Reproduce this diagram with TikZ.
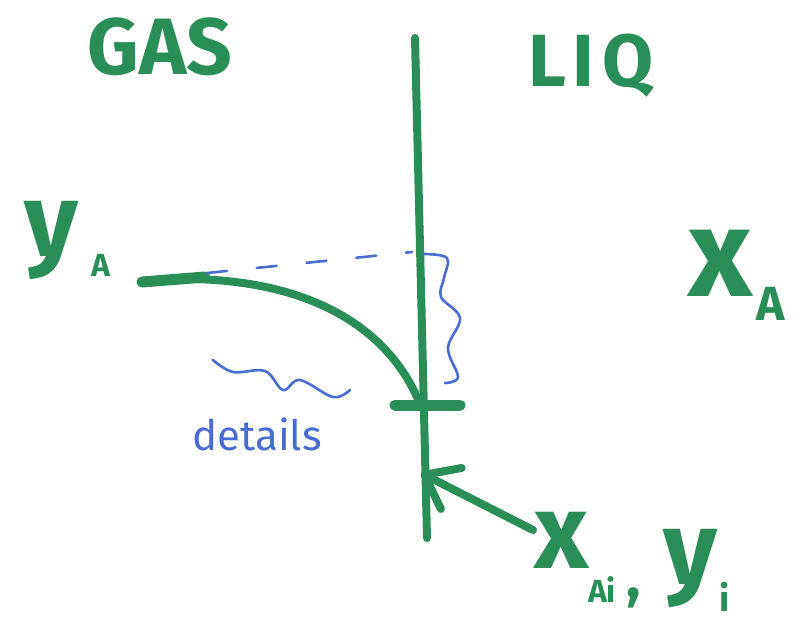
\documentclass[tikz,border=0pt]{standalone}
\usepackage{fontspec}
\setmainfont{Fira Sans}
\usetikzlibrary{arrows.meta}
\definecolor{mgreen}{RGB}{42,142,88}
\definecolor{mblue}{RGB}{72,108,208}
\tikzset{
  marker/.style={draw=mgreen, line width=8pt, line cap=round, line join=round},
  pen/.style={draw=mblue, line width=2.6pt, line cap=round, line join=round},
  gtext/.style={text=mgreen, inner sep=0pt, font=\bfseries},
  btext/.style={text=mblue, inner sep=0pt},
}
\begin{document}
\begin{tikzpicture}[x=1pt,y=-1pt]
\useasboundingbox (0,0) rectangle (797,635);
% labels
\node[gtext, font=\bfseries\fontsize{80}{80}\selectfont] (gas) at (160,47) {GAS};
\node[gtext, font=\bfseries\fontsize{74}{74}\selectfont] (liq) at (591,66) {L\kern6pt I\kern8pt Q};
\node[gtext, font=\bfseries\fontsize{104}{104}\selectfont] (yA) at (51,240) {y};
\node[gtext, font=\bfseries\fontsize{32}{32}\selectfont] (yAs) at (101,265) {A};
\node[gtext, font=\bfseries\fontsize{125}{125}\selectfont] (xA) at (720,263) {x};
\node[gtext, font=\bfseries\fontsize{48}{48}\selectfont] (xAs) at (771,304) {A};
\node[gtext, font=\bfseries\fontsize{106}{106}\selectfont] (xAi) at (562,540) {x};
\node[gtext, font=\bfseries\fontsize{32}{32}\selectfont] (xAis) at (602,590) {Ai};
\node[gtext, font=\bfseries\fontsize{60}{60}\selectfont] (comma) at (634,598) {,};
\node[gtext, font=\bfseries\fontsize{104}{104}\selectfont] (yi) at (690,568) {y};
\node[gtext, font=\bfseries\fontsize{36}{36}\selectfont] (yis) at (725,597) {i};
\node[btext, font=\fontsize{42}{42}\selectfont] (det) at (257,434) {details};
% interface
\coordinate (itop) at (415,38);
\coordinate (ibot) at (427,538);
\draw[marker] (itop) -- (ibot);
\coordinate (tickL) at (395,405);
\coordinate (tickR) at (460,405);
\draw[marker, line width=11pt] (tickL) -- (tickR);
% profile curve
\coordinate (c0) at (142,282);
\coordinate (c1) at (205,277);
\coordinate (cs) at (180,279);
\coordinate (ce) at (420,404);
\draw[marker, line width=11pt] (c0) -- (c1);
\draw[marker] (cs) .. controls (305,278) and (388,325) .. (ce);
% blue dashed level
\coordinate (d0) at (207,273);
\coordinate (d1) at (412,252);
\draw[pen, dash pattern=on 20pt off 30pt] (d0) -- (d1);
% brace
\draw[pen] plot[smooth, tension=0.6] coordinates {(424,254) (447,258) (444,278) (441,297) (460,318) (448,348) (458,377) (445,383)};
% wavy under curve
\draw[pen] plot[smooth, tension=0.6] coordinates {(213,360) (233,372) (265,371) (283,390) (300,380) (333,397) (350,390)};
% arrow
\coordinate (tail) at (533,530);
\coordinate (tip) at (421,473);
\draw[marker, -{Straight Barb[length=30pt, width=46pt, round]}] (tail) -- (tip);
\end{tikzpicture}
\end{document}
